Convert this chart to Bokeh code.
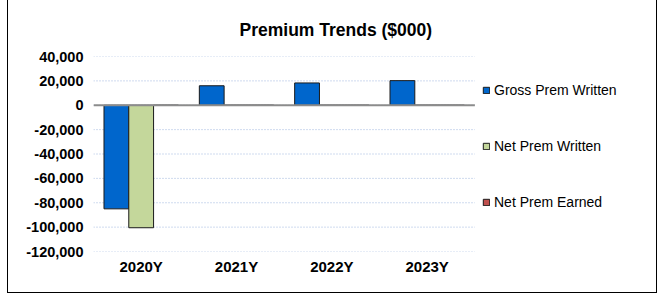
from bokeh.plotting import figure
from bokeh.models import (ColumnDataSource, FixedTicker, NumeralTickFormatter,
                          Legend, LegendItem, Title, Range1d)
from bokeh.transform import dodge
from bokeh.embed import file_html
from bokeh.resources import INLINE

# ---- data ----
years = ["2020Y", "2021Y", "2022Y", "2023Y"]
gross_prem_written = [-85000, 16000, 18300, 20200]
net_prem_written = [-100500, 0, 0, 0]
net_prem_earned = [0, 0, 0, 0]
series_names = ["Gross Prem Written", "Net Prem Written", "Net Prem Earned"]
series_colors = ["#0066CC", "#C4D79B", "#C0504D"]
y_ticks = [-120000, -100000, -80000, -60000, -40000, -20000, 0, 20000, 40000]
title_text = "Premium Trends ($000)"

n = len(years)
xc = [i + 0.5 for i in range(n)]          # category centres on a numeric scale
W, H = 650, 293
FRAME_W = 557                              # frame width in px (categories take 380 px of it)
x_end = FRAME_W / (380 / n)

p = figure(width=W, height=H, x_range=Range1d(0, x_end),
           y_range=Range1d(-120000, 40000), output_backend="svg", toolbar_location=None,
           min_border_left=85, min_border_right=648 - 85 - FRAME_W, min_border_top=56,
           min_border_bottom=42)
p.styles = {"margin-left": "7px", "border-left": "1px solid #000", "border-right": "1px solid #000",
            "border-bottom": "1px solid #000", "box-sizing": "border-box"}
p.outline_line_color = None
p.background_fill_color = "white"

p.title = Title(text=title_text, align="left", offset=146, text_font="Liberation Sans",
                text_font_size="17.5px", text_font_style="bold", text_color="black", standoff=33)

# dotted gridlines, restricted to the category area
p.segment(x0=[0] * len(y_ticks), x1=[n] * len(y_ticks), y0=y_ticks, y1=y_ticks,
          line_color="#9FB6DE", line_dash="1 2", line_width=1)

offsets = [-0.26, 0.0, 0.26]
all_series = [gross_prem_written, net_prem_written, net_prem_earned]
items = []
for name, vals, col, off in zip(series_names, all_series, series_colors, offsets):
    src = ColumnDataSource(dict(x=xc, v=vals))
    r = p.vbar(x=dodge("x", off), top="v", bottom=0, width=0.26, source=src,
               fill_color=col, line_color="#1a1a1a", line_width=1)
    items.append(LegendItem(label=name, renderers=[r]))

# zero line (drawn over zero-height bars)
p.segment(x0=[0], x1=[n], y0=[0], y1=[0], line_color="#8c8c8c", line_width=2)

p.yaxis.ticker = FixedTicker(ticks=y_ticks)
p.yaxis.formatter = NumeralTickFormatter(format="0,0")
p.xaxis.ticker = FixedTicker(ticks=xc)
p.xaxis.major_label_overrides = {c: y for c, y in zip(xc, years)}
for ax in (p.xaxis, p.yaxis):
    ax.axis_line_color = None
    ax.major_tick_line_color = None
    ax.minor_tick_line_color = None
    ax.major_tick_out = 0
    ax.major_tick_in = 0
    ax.minor_tick_out = 0
    ax.minor_tick_in = 0
    ax.major_label_text_font = "Liberation Sans"
    ax.major_label_text_font_style = "bold"
    ax.major_label_text_color = "black"
p.yaxis.major_label_text_font_size = "14.5px"
p.yaxis.major_label_standoff = 10
p.xaxis.major_label_text_font_size = "15px"
p.xaxis.major_label_standoff = 6
p.xgrid.grid_line_color = None
p.ygrid.grid_line_color = None

legend = Legend(items=items, location=(389, 41), padding=0, margin=0, spacing=40,
                glyph_width=8, glyph_height=8, label_height=16, label_standoff=4,
                label_text_font="Liberation Sans", label_text_font_size="14px",
                label_text_color="black", border_line_color=None, background_fill_alpha=0)
p.add_layout(legend, "center")

open("out.html", "w").write(file_html(p, INLINE))
